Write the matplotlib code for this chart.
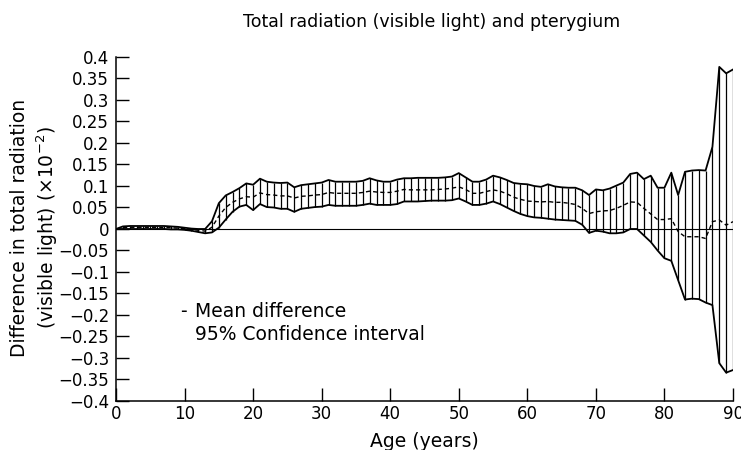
import matplotlib
matplotlib.use("Agg")
import matplotlib.pyplot as plt
import numpy as np

# ---- data ----
ages = list(range(0, 91))
upper = [0.000, 0.006, 0.007, 0.007, 0.007, 0.007, 0.007, 0.007, 0.006, 0.005,
         0.003, 0.001, 0.000, 0.000, 0.018, 0.060, 0.078, 0.086, 0.095, 0.106,
         0.103, 0.117, 0.110, 0.108, 0.107, 0.108, 0.097, 0.102, 0.104, 0.106,
         0.108, 0.114, 0.110, 0.110, 0.110, 0.110, 0.112, 0.118, 0.113, 0.110,
         0.110, 0.115, 0.118, 0.118, 0.119, 0.119, 0.119, 0.119, 0.120, 0.122,
         0.130, 0.120, 0.110, 0.110, 0.115, 0.124, 0.120, 0.114, 0.107, 0.105,
         0.104, 0.100, 0.098, 0.104, 0.099, 0.097, 0.096, 0.096, 0.090, 0.079,
         0.092, 0.090, 0.094, 0.101, 0.108, 0.128, 0.131, 0.116, 0.124, 0.096,
         0.096, 0.131, 0.079, 0.133, 0.136, 0.137, 0.136, 0.191, 0.377, 0.362,
         0.371]
lower = [0.000, 0.000, 0.000, 0.000, 0.000, 0.000, 0.000, 0.000, -0.001, -0.001,
         -0.002, -0.004, -0.007, -0.010, -0.008, 0.003, 0.022, 0.040, 0.052, 0.056,
         0.044, 0.058, 0.051, 0.050, 0.047, 0.047, 0.040, 0.047, 0.049, 0.051,
         0.052, 0.056, 0.054, 0.054, 0.054, 0.054, 0.056, 0.059, 0.056, 0.056,
         0.056, 0.058, 0.064, 0.064, 0.064, 0.065, 0.066, 0.066, 0.066, 0.067,
         0.071, 0.064, 0.056, 0.056, 0.059, 0.064, 0.058, 0.050, 0.042, 0.035,
         0.030, 0.027, 0.026, 0.024, 0.022, 0.021, 0.020, 0.019, 0.010, -0.009,
         -0.004, -0.006, -0.010, -0.010, -0.008, 0.000, 0.000, -0.015, -0.030, -0.050,
         -0.068, -0.074, -0.119, -0.164, -0.162, -0.163, -0.171, -0.177, -0.312, -0.334,
         -0.328]
mean = [0.000, 0.003, 0.004, 0.004, 0.004, 0.004, 0.004, 0.003, 0.003, 0.002,
        0.001, -0.001, -0.003, -0.005, 0.004, 0.030, 0.050, 0.062, 0.070, 0.075,
        0.074, 0.084, 0.080, 0.079, 0.077, 0.077, 0.072, 0.076, 0.077, 0.079,
        0.080, 0.085, 0.083, 0.083, 0.083, 0.083, 0.085, 0.088, 0.086, 0.085,
        0.085, 0.088, 0.092, 0.091, 0.091, 0.091, 0.091, 0.092, 0.093, 0.095,
        0.098, 0.092, 0.083, 0.083, 0.087, 0.091, 0.088, 0.082, 0.074, 0.069,
        0.065, 0.064, 0.063, 0.064, 0.062, 0.062, 0.060, 0.057, 0.048, 0.036,
        0.040, 0.042, 0.043, 0.048, 0.055, 0.063, 0.062, 0.048, 0.035, 0.022,
        0.022, 0.024, -0.006, -0.018, -0.018, -0.018, -0.022, 0.017, 0.021, 0.009,
        0.017]

x_ticks = [0, 10, 20, 30, 40, 50, 60, 70, 80, 90]
x_ticklabels = ["0", "10", "20", "30", "40", "50", "60", "70", "80", "90"]
y_ticks = [0.4, 0.35, 0.3, 0.25, 0.2, 0.15, 0.1, 0.05, 0.0,
           -0.05, -0.1, -0.15, -0.2, -0.25, -0.3, -0.35, -0.4]
y_ticklabels = ["0.4", "0.35", "0.3", "0.25", "0.2", "0.15", "0.1", "0.05", "0",
                "\u22120.05", "\u22120.1", "\u22120.15", "\u22120.2", "\u22120.25",
                "\u22120.3", "\u22120.35", "\u22120.4"]

title = "Total radiation (visible light) and pterygium"
xlabel = "Age (years)"
ylabel = "Difference in total radiation\n(visible light) (\u00d710$^{-2}$)"
legend_lines = ["Mean difference", "95% Confidence interval"]

# ---- figure ----
plt.rcParams['font.family'] = ['DejaVu Sans']
W, H = 741, 450
fig = plt.figure(figsize=(W / 100, H / 100), dpi=100)
ax = fig.add_axes([116 / W, 1 - 401 / H, (733 - 116) / W, (401 - 57) / H])

ax.vlines(ages, lower, upper, color='black', lw=0.9)
ax.plot(ages, upper, color='black', lw=1.3)
ax.plot(ages, lower, color='black', lw=1.3)
ax.plot(ages, mean, color='black', lw=1.0, linestyle=(0, (3.0, 2.2)))
ax.axhline(0, color='black', lw=0.8)

ax.set_xlim(0, 90)
ax.set_ylim(-0.4, 0.4)
ax.set_xticks(x_ticks)
ax.set_xticklabels(x_ticklabels)
ax.set_yticks(y_ticks)
ax.set_yticklabels(y_ticklabels)
ax.tick_params(direction='in', length=9.4, width=1.0, labelsize=12)
ax.tick_params(axis='y', pad=5)
ax.tick_params(axis='x', pad=3)
for s in ['top', 'right']:
    ax.spines[s].set_visible(False)
for s in ['left', 'bottom']:
    ax.spines[s].set_linewidth(1.1)

fig.text(432 / W, 1 - 27 / H, title, ha='center', va='baseline', fontsize=12.5)
fig.text(424 / W, 1 - 447 / H, xlabel, ha='center', va='baseline', fontsize=13.5)
fig.text(35 / W, 1 - 228 / H, ylabel, ha='center', va='center', rotation=90,
         multialignment='center', fontsize=13.5, linespacing=1.3)

fig.text(180 / W, 1 - 317 / H, "-", ha='left', va='baseline', fontsize=13.5)
fig.text(195 / W, 1 - 317 / H, legend_lines[0], ha='left', va='baseline', fontsize=13.5)
fig.text(195 / W, 1 - 340 / H, legend_lines[1], ha='left', va='baseline', fontsize=13.5)

fig.savefig("out.png", dpi=100)
